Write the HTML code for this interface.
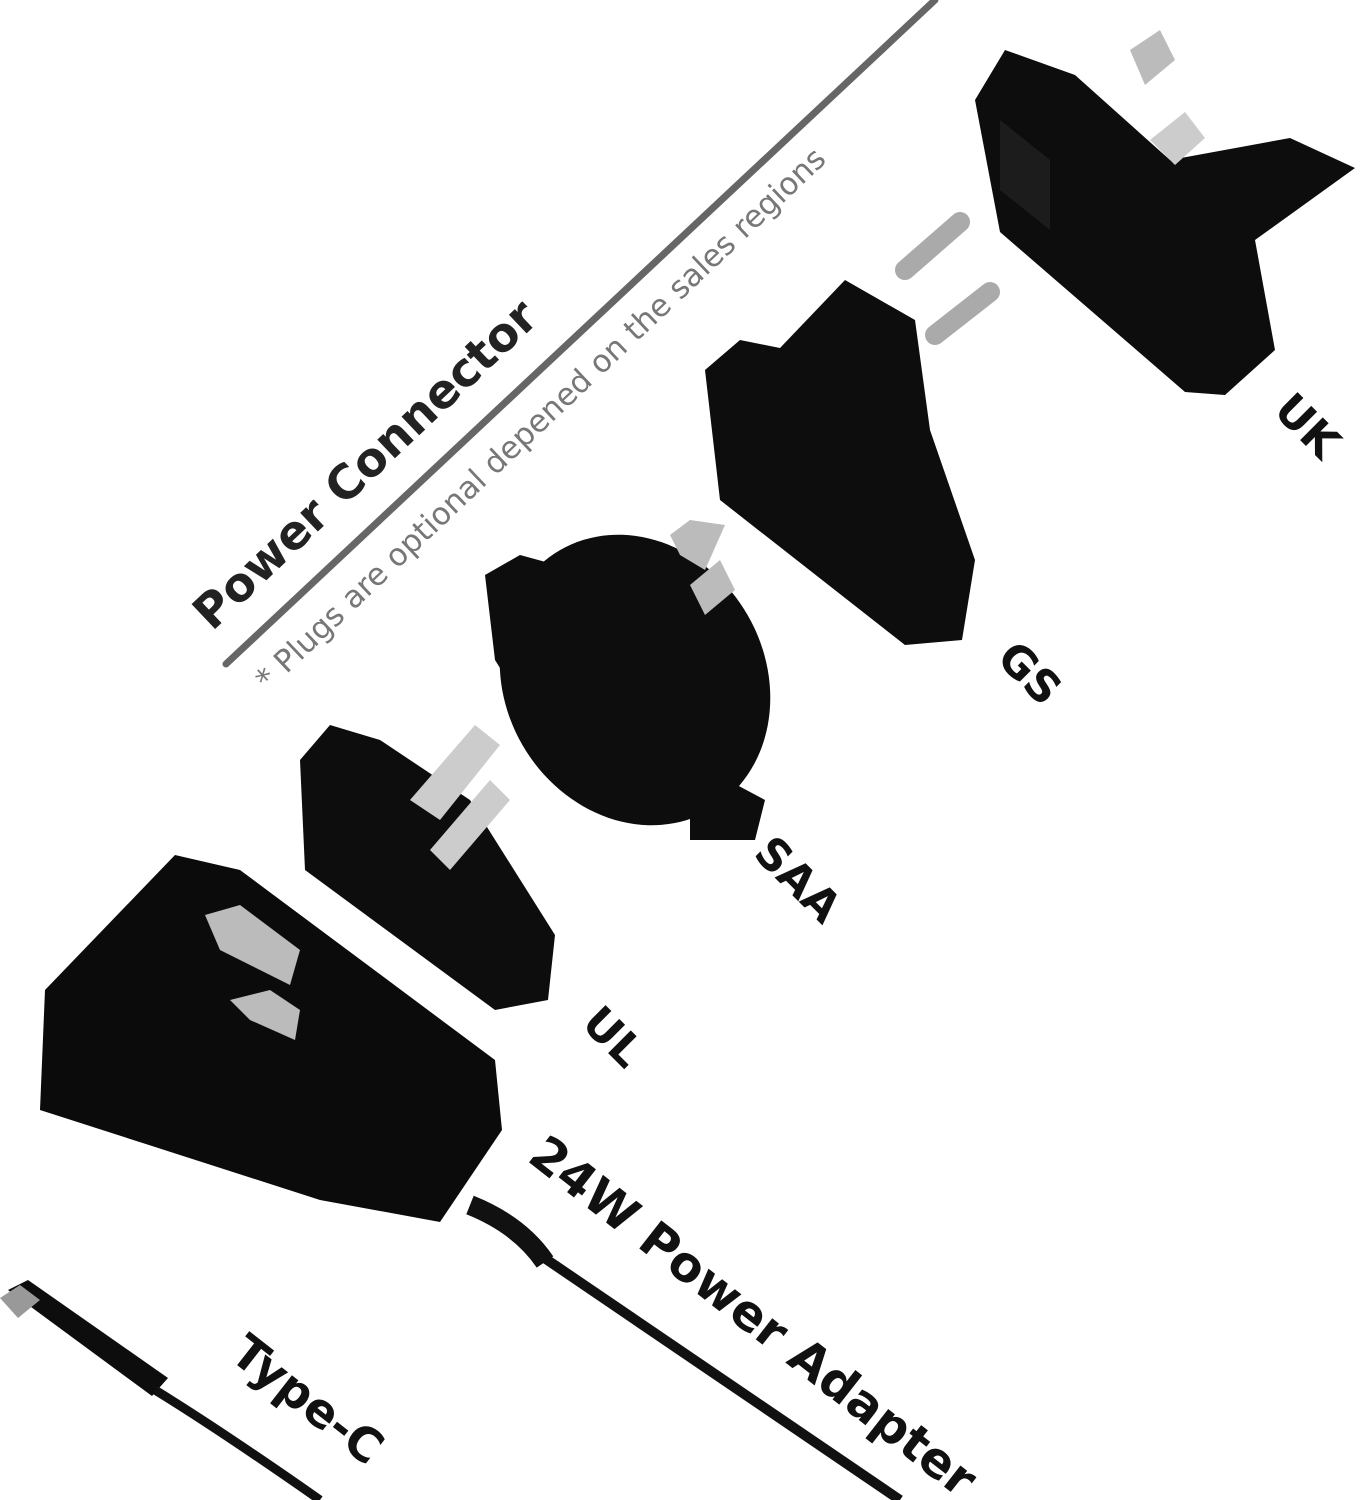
<!DOCTYPE html>
<html><head><meta charset="utf-8"><style>
html,body{margin:0;padding:0;background:#fff;}
svg{display:block}
text{font-family:"DejaVu Sans","Liberation Sans",sans-serif;}
</style></head><body>
<svg width="1360" height="1500" viewBox="0 0 1360 1500" xmlns="http://www.w3.org/2000/svg">
<line x1="226" y1="664" x2="935" y2="0" stroke="#666" stroke-width="7" stroke-linecap="round"/>
<text x="0" y="0" font-size="47" font-weight="bold" fill="#222" transform="translate(212,632) rotate(-43.5)">Power Connector</text>
<text x="0" y="0" font-size="31" fill="#777" transform="translate(268,692) rotate(-43.5)">* Plugs are optional depened on the sales regions</text>

<!-- UK plug -->
<polygon points="975,100 1005,50 1075,75 1170,160 1290,138 1355,168 1255,240 1275,350 1225,395 1185,392 1000,232" fill="#0d0d0d"/>
<polygon points="1130,50 1160,30 1175,60 1145,85" fill="#bbb"/>
<polygon points="1150,140 1185,112 1205,138 1175,165" fill="#ccc"/>
<polygon points="1000,120 1050,160 1050,230 1000,190" fill="#1c1c1c"/>
<!-- GS plug -->
<polygon points="705,370 740,340 780,348 845,280 915,320 930,430 975,560 962,640 905,645 720,500" fill="#0d0d0d"/>
<line x1="905" y1="270" x2="960" y2="222" stroke="#aaa" stroke-width="20" stroke-linecap="round"/>
<line x1="935" y1="335" x2="990" y2="292" stroke="#aaa" stroke-width="20" stroke-linecap="round"/>
<!-- SAA plug -->
<ellipse cx="635" cy="680" rx="130" ry="150" transform="rotate(-30 635 680)" fill="#0d0d0d"/>
<polygon points="485,575 520,555 575,570 560,700 520,700 495,660" fill="#0d0d0d"/>
<polygon points="690,760 765,800 755,840 690,840" fill="#0d0d0d"/>
<polygon points="670,535 690,520 725,525 705,570 680,555" fill="#bbb"/>
<polygon points="690,585 720,560 735,590 705,615" fill="#bbb"/>
<!-- UL plug -->
<polygon points="300,760 330,725 380,740 470,800 555,935 548,1000 495,1010 305,870" fill="#0d0d0d"/>
<polygon points="410,800 475,725 500,745 440,820" fill="#ccc"/>
<polygon points="430,850 490,780 510,800 450,870" fill="#ccc"/>
<!-- adapter body -->
<polygon points="45,990 175,855 240,870 495,1060 502,1130 440,1222 320,1200 40,1110" fill="#0b0b0b"/>
<polygon points="205,915 240,905 300,950 290,985 220,950" fill="#bbb"/>
<polygon points="230,1000 270,990 300,1010 295,1040 250,1020" fill="#bbb"/>
<!-- cable -->
<path d="M470,1205 Q520,1225 545,1262" stroke="#111" stroke-width="20" fill="none"/>
<path d="M540,1255 L900,1500" stroke="#111" stroke-width="10" fill="none"/>
<!-- Type-C -->
<polygon points="8,1290 28,1280 168,1378 152,1396" fill="#0d0d0d"/>
<polygon points="0,1298 20,1285 40,1300 18,1318" fill="#999"/>
<path d="M155,1390 Q220,1430 320,1500" stroke="#111" stroke-width="9" fill="none"/>

<g font-size="44" font-weight="bold" fill="#111">
<text transform="translate(1272,412) rotate(45)">UK</text>
<text transform="translate(995,660) rotate(45)">GS</text>
<text transform="translate(752,855) rotate(45)">SAA</text>
<text transform="translate(580,1025) rotate(45)">UL</text>
<text font-size="49" transform="translate(526,1160) rotate(38)">24W Power Adapter</text>
<text font-size="47" transform="translate(228,1358) rotate(38)">Type-C</text>
</g>
</svg>
</body></html>
